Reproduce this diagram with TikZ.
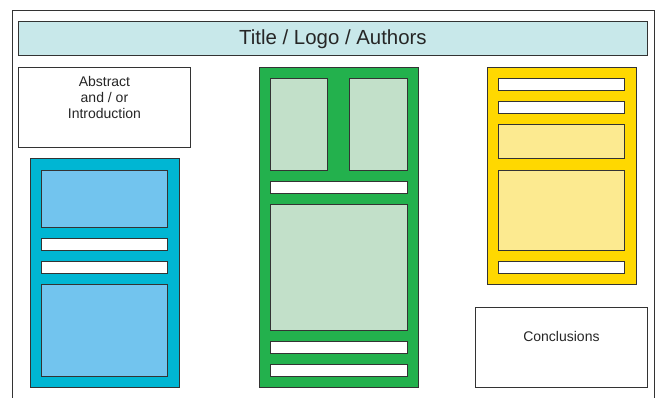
\documentclass[tikz,border=0pt]{standalone}
\usepackage{fontspec}
\setmainfont{Liberation Sans}
\usepackage{tikz}
\usetikzlibrary{calc}

\definecolor{titlecol}{HTML}{C8E8EA}
\definecolor{cyanpanel}{HTML}{00B6D3}
\definecolor{bluefig}{HTML}{72C4EE}
\definecolor{greenpanel}{HTML}{23B14D}
\definecolor{greenfig}{HTML}{C2E0C9}
\definecolor{yellowpanel}{HTML}{FFD800}
\definecolor{yellowfig}{HTML}{FCEA90}

\tikzset{
  box/.style={draw=black!80, line width=0.9pt, inner sep=0pt, anchor=north west},
  bar/.style={box, fill=white, minimum height=12pt},
  txt/.style={font=\fontsize{14}{16.4}\selectfont, align=center, text=black!85}
}

\begin{document}
\begin{tikzpicture}[x=1pt, y=-1pt]
    \useasboundingbox (0,0) rectangle (657,398);

    \coordinate (fl) at (12,398);
    \coordinate (fr) at (654,398);
    \draw[black!80, line width=1pt] (fl) |- (654,11) -- (fr);

    \node[box, fill=titlecol, minimum width=629pt, minimum height=34pt] at (18,21) (title) {};
    \node[font=\fontsize{20.4}{24}\selectfont, text=black!85] at ($(title.center)+(0,0.5)$) (titletxt) {Title / Logo / Authors};

    \node[box, fill=white, minimum width=172pt, minimum height=80pt] at (18,67) (abstract) {};
    \node[txt] at ($(abstract.north)+(0,30.5)$) (abstracttxt) {Abstract\\and / or\\Introduction};

    \node[box, fill=white, minimum width=172pt, minimum height=80pt] at (475,307) (concl) {};
    \node[txt] at ($(concl.center)+(0,-10.5)$) (concltxt) {Conclusions};

    \node[box, fill=cyanpanel, minimum width=149pt, minimum height=229pt] at (30,158) (cyan) {};
    \node[box, fill=bluefig, minimum width=126pt, minimum height=57pt] at ($(cyan.north west)+(11,12)$) (blue1) {};
    \node[bar, minimum width=126pt] at ($(cyan.north west)+(11,80)$) (cbar1) {};
    \node[bar, minimum width=126pt] at ($(cyan.north west)+(11,103)$) (cbar2) {};
    \node[box, fill=bluefig, minimum width=126pt, minimum height=92pt] at ($(cyan.north west)+(11,126)$) (blue2) {};

    \node[box, fill=greenpanel, minimum width=159pt, minimum height=320pt] at (259,67) (green) {};
    \node[box, fill=greenfig, minimum width=57pt, minimum height=92pt] at ($(green.north west)+(11,11)$) (green1) {};
    \node[box, fill=greenfig, minimum width=58pt, minimum height=92pt] at ($(green.north west)+(90,11)$) (green2) {};
    \node[bar, minimum width=137pt] at ($(green.north west)+(11,114)$) (gbar1) {};
    \node[box, fill=greenfig, minimum width=137pt, minimum height=126pt] at ($(green.north west)+(11,137)$) (green3) {};
    \node[bar, minimum width=137pt] at ($(green.north west)+(11,274)$) (gbar2) {};
    \node[bar, minimum width=137pt] at ($(green.north west)+(11,297)$) (gbar3) {};

    \node[box, fill=yellowpanel, minimum width=149pt, minimum height=217pt] at (487,67) (yellow) {};
    \node[bar, minimum width=126pt] at ($(yellow.north west)+(11,11)$) (ybar1) {};
    \node[bar, minimum width=126pt] at ($(yellow.north west)+(11,34)$) (ybar2) {};
    \node[box, fill=yellowfig, minimum width=126pt, minimum height=34pt] at ($(yellow.north west)+(11,57)$) (yellow1) {};
    \node[box, fill=yellowfig, minimum width=126pt, minimum height=80pt] at ($(yellow.north west)+(11,103)$) (yellow2) {};
    \node[bar, minimum width=126pt] at ($(yellow.north west)+(11,194)$) (ybar3) {};
\end{tikzpicture}
\end{document}
